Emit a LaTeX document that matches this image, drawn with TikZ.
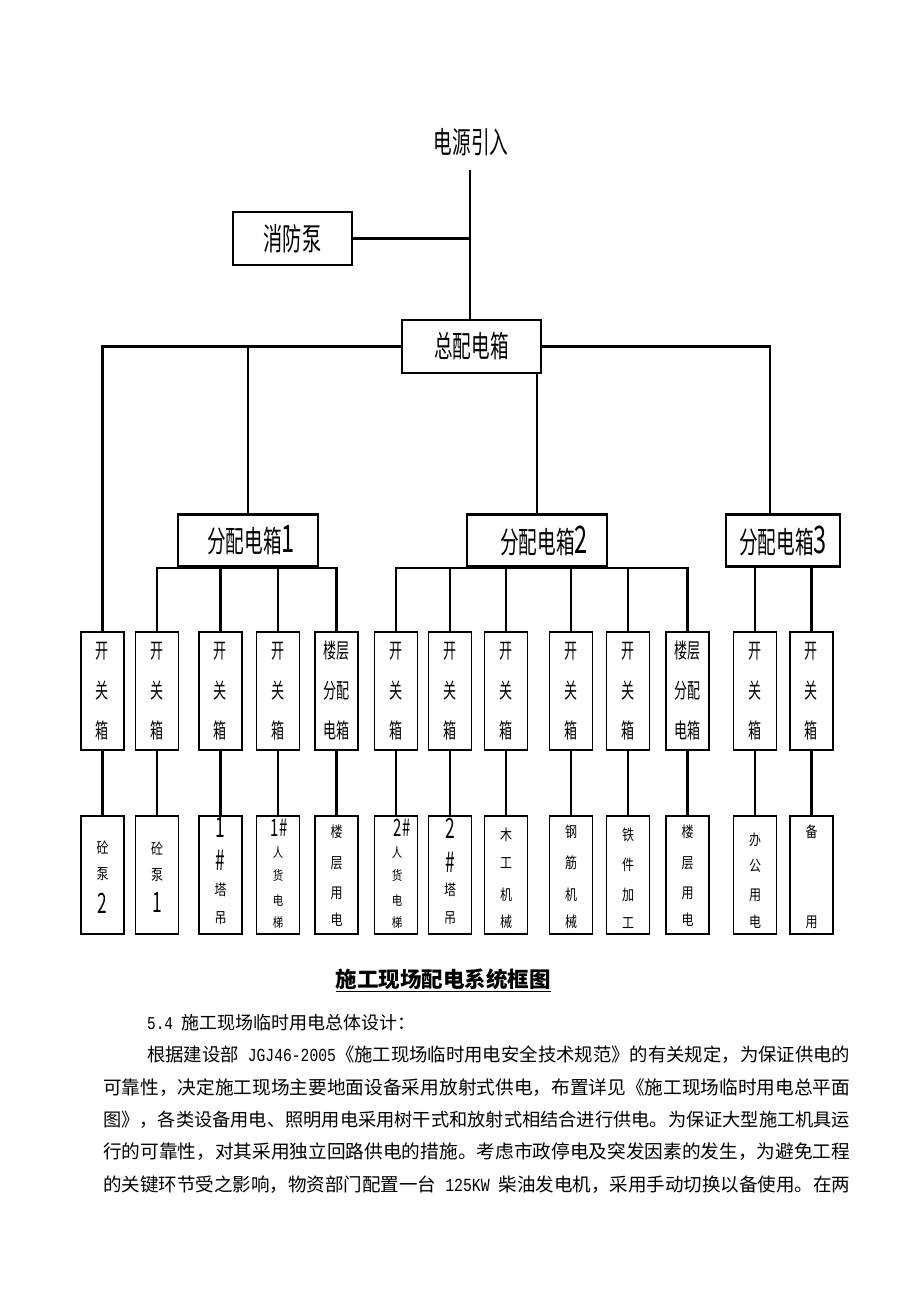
\documentclass[tikz,border=0pt]{standalone}
\usepackage{fontspec}
\usepackage{graphicx}
\setmainfont{Noto Sans CJK SC}
\newfontfamily\cadf[FakeStretch=0.62]{Noto Sans CJK SC}
\newfontfamily\smf[FakeStretch=0.8]{Noto Sans CJK SC}
\newfontfamily\latf[FakeStretch=0.8]{Liberation Mono}
\begin{document}
\begin{tikzpicture}[x=1pt,y=-1pt,
  conn/.style={line width=2.8pt},
  thinbox/.style={draw,line width=1.4pt,inner sep=0pt},
  thickbox/.style={draw,line width=2.8pt,inner sep=0pt},
  kbox/.style={draw,line width=1.1pt,minimum width=43pt,minimum height=118pt,inner sep=0pt,
     align=center,font=\cadf\fontsize{21}{40}\selectfont},
  head/.style={font=\cadf\fontsize{30}{30}\selectfont},
  smt/.style={inner sep=0pt,font=\smf\fontsize{15}{15}\selectfont},
  tnt/.style={inner sep=0pt,font=\smf\fontsize{13}{13}\selectfont},
  dgt/.style={inner sep=0pt,font=\cadf\fontsize{28}{28}\selectfont},
  dgs/.style={inner sep=0pt,font=\cadf\fontsize{24}{24}\selectfont},
  body/.style={inner sep=0pt,anchor=west,font=\fontsize{18}{18}\selectfont}
]
\useasboundingbox (0,0) rectangle (920,1302);
\fill[white] (0,0) rectangle (920,1302);

% top
\node[head] (src) at (471,142) {电源引入};
\coordinate (srcb) at (470,170);
\node[thinbox,minimum width=119pt,minimum height=53pt,font=\cadf\fontsize{31}{31}\selectfont] (xfb) at (292.5,238.5) {消防泵};
\node[thickbox,minimum width=139pt,minimum height=53pt,head] (zong) at (471.5,346.5) {总配电箱};
\draw[conn] (srcb) -- (srcb |- zong.north);
\draw[conn] (xfb.east) -- (xfb.east -| srcb);

% distribution boxes
\node[thickbox,minimum width=140pt,minimum height=52pt,head] (f1) at (248,540.5) {\hspace{6pt}分配电箱{\fontsize{38}{38}\selectfont 1}};
\node[thickbox,minimum width=140pt,minimum height=52pt,head] (f2) at (537,540.5) {\hspace{14pt}分配电箱{\fontsize{38}{38}\selectfont 2}};
\node[thickbox,minimum width=114pt,minimum height=52pt,head] (f3) at (783,540.5) {分配电箱{\fontsize{38}{38}\selectfont 3}};
\coordinate (j1) at (248,346.5);
\coordinate (f3in) at (770,515);

% switch boxes and loads
\foreach \i/\x/\t in {1/102.5/{开\\关\\箱},2/157/{开\\关\\箱},3/220.5/{开\\关\\箱},4/278/{开\\关\\箱},
  5/336.5/{楼层\\分配\\电箱},6/396/{开\\关\\箱},7/450/{开\\关\\箱},8/506/{开\\关\\箱},9/571/{开\\关\\箱},
  10/628/{开\\关\\箱},11/687.5/{楼层\\分配\\电箱},12/755/{开\\关\\箱},13/811.5/{开\\关\\箱}}{
  \node[kbox] (k\i) at (\x,691) {\t};
  \node[kbox] (b\i) at (\x,875) {};
  \draw[conn] (k\i) -- (b\i);
}

% main connectors
\draw[conn] (zong.west) -| (k1.north);
\draw[conn] (zong.east) -| (f3in);
\draw[conn] (j1) -- (j1 |- f1.north);
\draw[conn] (f2.north |- zong.south) -- (f2.north);

\draw[conn] (k2.north) |- (f1.south) -| (k5.north);
\draw[conn] (k3.north) -- (k3.north |- f1.south);
\draw[conn] (k4.north) -- (k4.north |- f1.south);

\draw[conn] (k6.north) |- (f2.south) -| (k11.north);
\foreach \i in {7,8,9,10}{\draw[conn] (k\i.north) -- (k\i.north |- f2.south);}
\draw[conn] (k12.north) -- (k12.north |- f3.south);
\draw[conn] (k13.north) -- (k13.north |- f3.south);

% load texts
\foreach \x/\y/\t in {102.5/847/砼,102.5/874/泵,157/848/砼,157/875/泵,
  220.5/890/塔,220.5/918/吊,336.5/832/楼,336.5/863/层,336.5/893/用,336.5/920/电,
  450/890/塔,450/918/吊,506/835/木,506/863/工,506/895/机,506/922/械,
  571/832/钢,571/863/筋,571/895/机,571/922/械,628/835/铁,628/865/件,628/895/加,628/923/工,
  687.5/832/楼,687.5/863/层,687.5/893/用,687.5/920/电,755/840/办,755/866/公,755/895/用,755/922/电,
  811.5/832/备,811.5/922/用}{\node[smt] at (\x,\y) {\t};}
\foreach \x/\y/\t in {278/853/人,278/876/货,278/900/电,278/923/梯,397/853/人,397/876/货,397/900/电,397/923/梯}
  {\node[tnt] at (\x,\y) {\t};}
\foreach \x/\y/\t in {102.5/903/2,157/903/1,220.5/828/1,220.5/860/\#,450/828/2,450/862/\#}
  {\node[dgt] at (\x,\y) {\t};}
\node[dgs] at (279,828) {1\#};
\node[dgs] at (402,828) {2\#};

% caption and text
\node[inner sep=0pt,font=\bfseries\fontsize{21.5}{21.5}\selectfont] (cap) at (443,980) {\underline{施工现场配电系统框图}};
\node[body] (l0) at (147,1023) {{\latf 5.4\ }施工现场临时用电总体设计：};
\node[body] (l1) at (147,1055) {\resizebox{703pt}{!}{根据建设部{\latf\ JGJ46-2005}《施工现场临时用电安全技术规范》的有关规定，为保证供电的}};
\node[body] (l2) at (103,1088) {\resizebox{747pt}{!}{可靠性，决定施工现场主要地面设备采用放射式供电，布置详见《施工现场临时用电总平面}};
\node[body] (l3) at (103,1120) {\resizebox{747pt}{!}{图》，各类设备用电、照明用电采用树干式和放射式相结合进行供电。为保证大型施工机具运}};
\node[body] (l4) at (103,1152) {\resizebox{747pt}{!}{行的可靠性，对其采用独立回路供电的措施。考虑市政停电及突发因素的发生，为避免工程}};
\node[body] (l5) at (103,1185) {\resizebox{747pt}{!}{的关键环节受之影响，物资部门配置一台{\latf\ 125KW }柴油发电机，采用手动切换以备使用。在两}};
\end{tikzpicture}
\end{document}
